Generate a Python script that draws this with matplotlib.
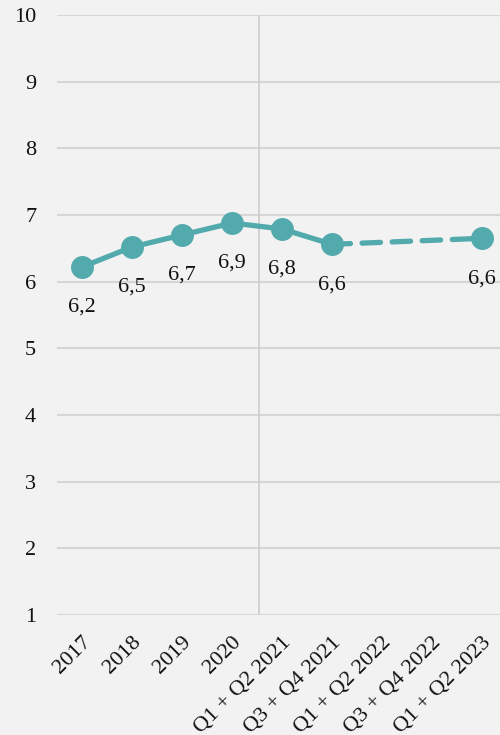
import numpy as np
import matplotlib.pyplot as plt

# data
categories = ["2017", "2018", "2019", "2020", "Q1 + Q2 2021", "Q3 + Q4 2021",
              "Q1 + Q2 2022", "Q3 + Q4 2022", "Q1 + Q2 2023"]
solid_idx = [0, 1, 2, 3, 4, 5]
solid_vals = [6.22, 6.52, 6.70, 6.88, 6.79, 6.56]
dash_idx = [5, 8]
dash_vals = [6.56, 6.65]
label_idx = [0, 1, 2, 3, 4, 5, 8]
label_vals = [6.22, 6.52, 6.70, 6.88, 6.79, 6.56, 6.65]
label_text = ["6,2", "6,5", "6,7", "6,9", "6,8", "6,6", "6,6"]
yticks = [1, 2, 3, 4, 5, 6, 7, 8, 9, 10]

plt.rcParams['font.family'] = ['Liberation Serif', 'DejaVu Serif']
teal = '#52aaad'
bg = '#f2f2f2'

fig = plt.figure(figsize=(5, 7.35), dpi=100, facecolor=bg)
ax = fig.add_axes([0.114, 0.1633, 0.886, 0.8163], facecolor=bg)

for y in yticks:
    ax.axhline(y, color='#d6d6d6', linewidth=1.5, zorder=1)
ax.axvline(3.54, color='#cccccc', linewidth=1.2, zorder=1)

ax.plot(dash_idx, dash_vals, color=teal, linewidth=3.8, linestyle=(0, (3.5, 2.2)),
        dash_capstyle='round', zorder=2)
ax.plot(solid_idx, solid_vals, color=teal, linewidth=3.8, zorder=3)
ax.plot(label_idx, label_vals, 'o', color=teal, markersize=15.5, zorder=4, clip_on=False)

for i, v, t in zip(label_idx, label_vals, label_text):
    ax.annotate(t, (i, v), xytext=(0, -29), textcoords='offset points',
                ha='center', va='center', fontsize=16, color='#111111',
                annotation_clip=False)

ax.set_xlim(-0.5, 8.36)
ax.set_ylim(1, 10)
ax.set_yticks(yticks)
ax.set_xticks(range(len(categories)))
ax.set_xticklabels(categories, rotation=45, ha='right', va='top',
                   rotation_mode='anchor', fontsize=16)
ax.tick_params(axis='both', length=0, labelsize=16, colors='#111111')
ax.tick_params(axis='y', pad=15)
ax.tick_params(axis='x', pad=13)
for s in ax.spines.values():
    s.set_visible(False)

plt.savefig("out.png", dpi=100, facecolor=bg)
